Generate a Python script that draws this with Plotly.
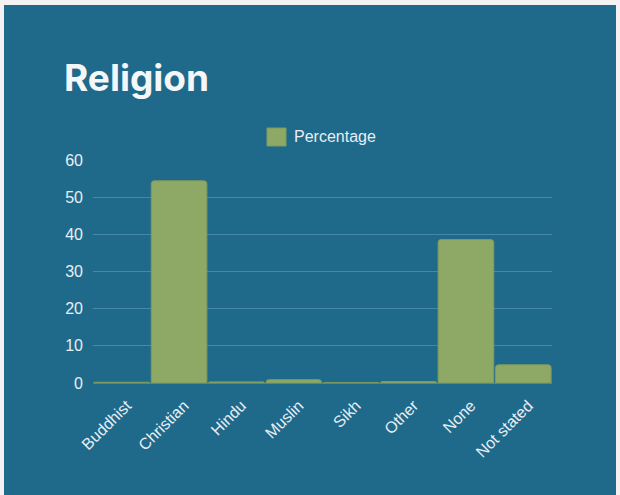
import plotly.graph_objects as go

categories = ["Buddhist", "Christian", "Hindu", "Muslin", "Sikh", "Other", "None", "Not stated"]
percentage = [0.2, 54.4, 0.3, 0.9, 0.1, 0.4, 38.6, 4.9]
y_ticks = [0, 10, 20, 30, 40, 50, 60]
series_name = "Percentage"

W, H = 620, 495
L, R, T, B = 93, 68, 160, 112
pw, ph = W - L - R, H - T - B

def px_x(p):
    return (p - L) / pw

def px_y(p):
    return (H - B - p) / ph

bar_color = "#8ea866"
text_color = "#e8eef3"
tick_font = "Liberation Sans, Arial, Helvetica, sans-serif"

fig = go.Figure()
fig.add_trace(go.Bar(
    x=categories, y=percentage, name=series_name,
    marker=dict(color=bar_color, line=dict(color="#7f9a5c", width=1)),
    showlegend=False,
))

fig.update_layout(
    width=W, height=H,
    margin=dict(l=L, r=R, t=T, b=B, pad=0),
    paper_bgcolor="#f3f1f4",
    plot_bgcolor="rgba(0,0,0,0)",
    font=dict(family=tick_font, color=text_color, size=16),
    bargap=0.03,
    barcornerradius=3,
    shapes=[
        dict(type="rect", xref="paper", yref="paper",
             x0=px_x(4), x1=px_x(616), y0=px_y(495), y1=px_y(5),
             fillcolor="#1f6a8b", line=dict(width=0), layer="below"),
        dict(type="rect", xref="paper", yref="paper",
             x0=px_x(267), x1=px_x(286), y0=px_y(146), y1=px_y(128),
             fillcolor=bar_color, line=dict(color="#7f9a5c", width=1)),
    ],
    annotations=[
        dict(text=series_name, xref="paper", yref="paper",
             x=px_x(292), y=px_y(137), xanchor="left", yanchor="middle",
             showarrow=False, font=dict(family=tick_font, size=16, color=text_color)),
    ],
    title=dict(text="<b>Religion</b>", xref="container", yref="container",
               x=64 / W, xanchor="left", y=1 - 78 / H, yanchor="middle",
               font=dict(family="Inter, Roboto, sans-serif", size=37, color="#f4f6f8")),
    xaxis=dict(tickangle=-45, showgrid=False, ticks="", showline=True,
               linecolor="#4a87a5", linewidth=1, ticklabelstandoff=6,
               ticklabelshift=5,
               tickfont=dict(family=tick_font, size=16)),
    yaxis=dict(range=[0, 60], tickvals=y_ticks, showgrid=True,
               gridcolor="#4a87a5", gridwidth=1, zeroline=False, ticks="",
               showline=False, ticklabelstandoff=9,
               tickfont=dict(family=tick_font, size=16)),
)

fig.write_html("out.html",
               config={"displayModeBar": False},
               post_script="document.body.style.margin='0';document.body.style.background='#f3f1f4';")
